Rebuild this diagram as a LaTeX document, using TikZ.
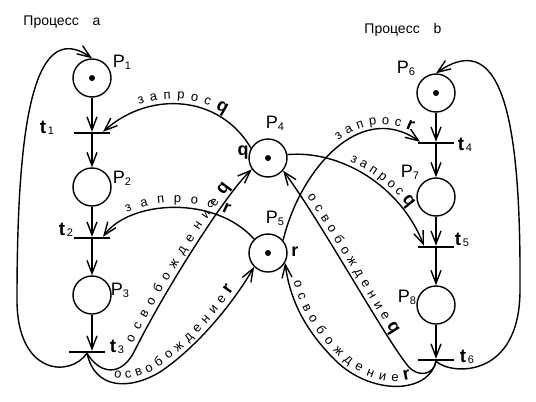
\documentclass[tikz,border=0pt]{standalone}
\usepackage{fontspec}
\setmainfont{Liberation Sans}
\usetikzlibrary{arrows.meta,decorations.text}

\tikzset{
  place/.style={circle,draw,line width=1.4pt,minimum size=38pt,inner sep=0pt},
  tokened/.style={path picture={\fill (path picture bounding box.center) circle (3pt);}},
  trans/.style={rectangle,fill=black,minimum width=36pt,minimum height=2pt,inner sep=0pt},
  arc/.style={line width=1.4pt,-{Straight Barb[length=13pt,width=10pt,line width=1.4pt]}},
  along/.style n args={3}{decorate,decoration={text along path,raise=5pt,
      text align={fit to path,left indent=#1,right indent=#2},text={#3}}},
  qr/.style={font=\fontsize{18}{18}\selectfont\bfseries,inner sep=0pt},
}
\newcommand\pname[1]{{\fontsize{18}{18}\selectfont P}\raisebox{-2pt}{\fontsize{11}{11}\selectfont #1}}
\newcommand\tname[1]{{\fontsize{19}{19}\selectfont\bfseries t}\,\raisebox{-1pt}{\fontsize{11}{11}\selectfont #1}}
\newcommand\arcfont{\fontsize{13}{13}\selectfont}
\newcommand\qrfont{\fontsize{18}{18}\selectfont\bfseries}

\begin{document}
\begin{tikzpicture}[x=1pt,y=1pt]
\useasboundingbox (0,0) rectangle (536,-402);
% titles
\node (procA) at (62,-22) {\fontsize{14}{14}\selectfont Процесс\hspace{14pt}a};
\node (procB) at (403,-30) {\fontsize{14}{14}\selectfont Процесс\hspace{14pt}b};
% process a
\node[place,tokened] (P1) at (92,-78) {};
\node[trans] (t1) at (92,-133) {};
\node[place] (P2) at (92,-187) {};
\node[trans] (t2) at (92,-238) {};
\node[place] (P3) at (92,-295) {};
\node[trans] (t3) at (87,-352) {};
% resources
\node[place,tokened] (P4) at (268,-158) {};
\node[place,tokened] (P5) at (268,-253) {};
% process b
\node[place,tokened] (P6) at (436,-93) {};
\node[trans] (t4) at (436,-143) {};
\node[place] (P7) at (436,-197) {};
\node[trans] (t5) at (436,-247) {};
\node[place] (P8) at (436,-305) {};
\node[trans] (t6) at (436,-360) {};
% labels
\node (lP1) at (122,-62) {\pname{1}};
\node (lP2) at (122,-178) {\pname{2}};
\node (lP3) at (120,-290) {\pname{3}};
\node (lP4) at (275,-123) {\pname{4}};
\node (lP5) at (275,-218) {\pname{5}};
\node (lP6) at (406,-68) {\pname{6}};
\node (lP7) at (410,-172) {\pname{7}};
\node (lP8) at (407,-297) {\pname{8}};
\node (lt1) at (47,-128) {\tname{1}};
\node (lt2) at (66,-230) {\tname{2}};
\node (lt3) at (117,-347) {\tname{3}};
\node (lt4) at (465,-145) {\tname{4}};
\node (lt5) at (462,-240) {\tname{5}};
\node (lt6) at (467,-357) {\tname{6}};
\node[qr] (q4) at (243,-153) {q};
\node[qr] (r5) at (295,-252) {r};
% straight arcs
\draw[arc] (P1) -- (P1 |- t1.north);
\draw[arc] (t1) -- (P2);
\draw[arc] (P2) -- (P2 |- t2.north);
\draw[arc] (t2) -- (P3);
\draw[arc] (P3) -- (P3 |- t3.north);
\draw[arc] (P6) -- (P6 |- t4.north);
\draw[arc] (t4) -- (P7);
\draw[arc] (P7) -- (P7 |- t5.north);
\draw[arc] (t5) -- (P8);
\draw[arc] (P8) -- (P8 |- t6.north);
% loops
\draw[arc] (t3.south) .. controls (70,-378) and (17,-375) .. (17,-300)
  .. controls (17,-140) and (30,-15) .. (P1.north);
\draw[arc] (t6.south) .. controls (450,-375) and (520,-380) .. (520,-290)
  .. controls (521,-130) and (505,-25) .. (P6.north);
% requests
\draw[arc] (P4.150) .. controls (220,-95) and (150,-90) .. ([xshift=11pt]t1.north);
\path[along={44pt}{42pt}{|\arcfont|з а п р о с |\qrfont|q}]
  ([xshift=11pt]t1.north) .. controls (150,-90) and (220,-95) .. (P4.150);
\draw[arc] (P5.135) .. controls (215,-195) and (130,-200) .. ([xshift=11pt]t2.north);
\path[along={33pt}{35pt}{|\arcfont|з а п р о с |\qrfont|r}]
  ([xshift=11pt]t2.north) .. controls (130,-200) and (215,-195) .. (P5.135);
\draw[arc,postaction={along={62pt}{43pt}{|\arcfont|з а п р о с |\qrfont|q}}]
  (P4.10) .. controls (340,-150) and (400,-185) .. ([xshift=-12pt]t5.north);
\draw[arc,postaction={along={114pt}{12pt}{|\arcfont|з а п р о с |\qrfont|r}}]
  (P5.40) .. controls (300,-170) and (360,-100) .. ([xshift=-16pt]t4.north);
% releases
\draw[arc,postaction={along={68pt}{27pt}{|\arcfont|о с в о б о ж д е н и е |\qrfont|q}}]
  (t3.south) .. controls (100,-375) and (122,-377) .. (135,-350)
  .. controls (165,-290) and (225,-195) .. (P4.-145);
\draw[arc,postaction={along={42pt}{30pt}{|\arcfont|о с в о б о ж д е н и е |\qrfont|r}}]
  (t3.south) .. controls (95,-390) and (130,-390) .. (160,-372)
  .. controls (200,-345) and (235,-300) .. (P5.-135);
\draw[arc] (t6.south) .. controls (434,-375) and (418,-378) .. (408,-366)
  .. controls (385,-338) and (320,-220) .. (P4.-40);
\path[along={35pt}{35pt}{|\arcfont|о с в о б о ж д е н и е |\qrfont|q}]
  (P4.-40) .. controls (320,-220) and (385,-338) .. (408,-366);
\draw[arc] (t6.south) .. controls (428,-395) and (370,-395) .. (335,-360)
  .. controls (305,-330) and (290,-300) .. (P5.-30);
\path[along={20pt}{35pt}{|\arcfont|о с в о б о ж д е н и е |\qrfont|r}]
  (P5.-30) .. controls (290,-300) and (305,-330) .. (335,-360)
  .. controls (370,-395) and (428,-395) .. (t6.south);
\end{tikzpicture}
\end{document}
